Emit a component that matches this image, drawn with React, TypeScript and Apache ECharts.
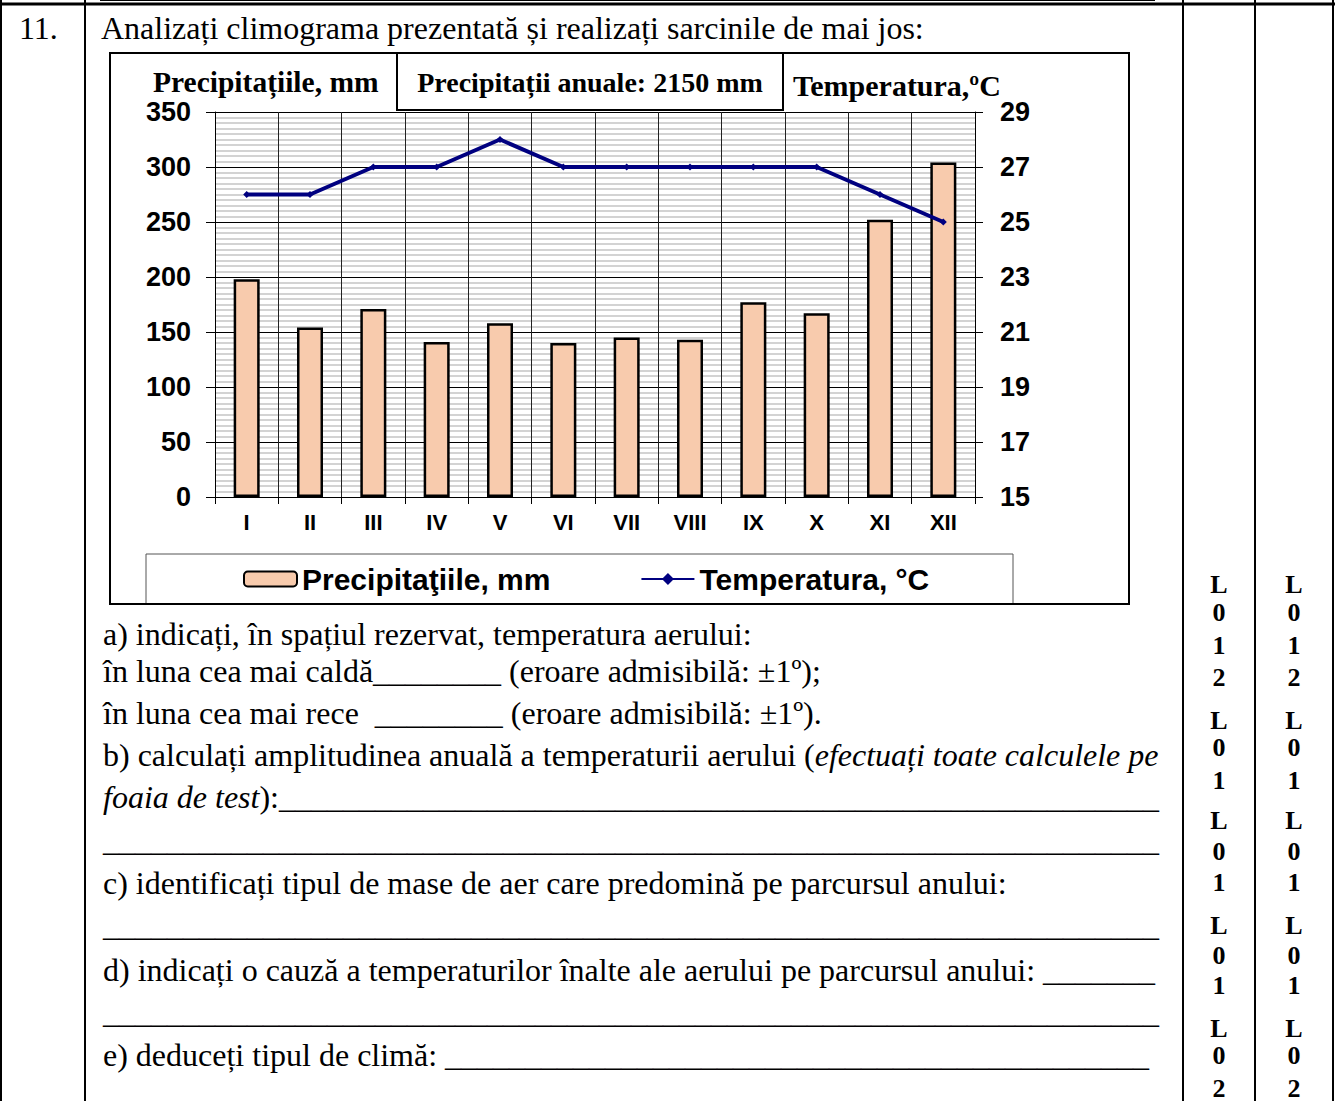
import React, { useEffect, useRef } from "react";
import * as echarts from "echarts";

const months = ["I", "II", "III", "IV", "V", "VI", "VII", "VIII", "IX", "X", "XI", "XII"];
const precipitation = [198, 154, 171, 141, 158, 140, 145, 143, 177, 167, 252, 304];
const temperature = [26, 26, 27, 27, 28, 27, 27, 27, 27, 27, 26, 25];
const tempTicks = [15, 17, 19, 21, 23, 25, 27, 29];

const precipName = "Precipitaţiile, mm";
const tempName = "Temperatura, °C";
const chartTitle = "Precipitații anuale: 2150 mm";
const leftAxisTitle = "Precipitațiile, mm";
const rightAxisTitle = "Temperatura,ºC";

const u = (n: number) => "_".repeat(n);

const pageLines: { y: number; text: string }[] = [
  { y: 634, text: "a) indicați, în spațiul rezervat, temperatura aerului:" },
  { y: 671, text: "în luna cea mai caldă" + u(8) + " (eroare admisibilă: ±1º);" },
  { y: 713, text: "în luna cea mai rece  " + u(8) + " (eroare admisibilă: ±1º)." },
  { y: 840, text: u(66) },
  { y: 883, text: "c) identificați tipul de mase de aer care predomină pe parcursul anului:" },
  { y: 925, text: u(66) },
  { y: 970, text: "d) indicați o cauză a temperaturilor înalte ale aerului pe parcursul anului: " + u(7) },
  { y: 1012, text: u(66) },
  { y: 1055, text: "e) deduceți tipul de climă: " + u(11) + u(33) },
];

const scoreCols = [1219, 1294];
const scoreChars: { y: number; ch: string }[] = [
  { y: 584, ch: "L" }, { y: 612, ch: "0" }, { y: 645, ch: "1" }, { y: 677, ch: "2" },
  { y: 720, ch: "L" }, { y: 747, ch: "0" }, { y: 780, ch: "1" },
  { y: 820, ch: "L" }, { y: 851, ch: "0" }, { y: 882, ch: "1" },
  { y: 925, ch: "L" }, { y: 955, ch: "0" }, { y: 985, ch: "1" },
  { y: 1028, ch: "L" }, { y: 1055, ch: "0" }, { y: 1088, ch: "2" },
];

const serif = '"Liberation Serif", "Times New Roman", serif';
const sans = '"Liberation Sans", Arial, sans-serif';
const FS = 32;

export default function App() {
  const ref = useRef<HTMLDivElement>(null);
  useEffect(() => {
    if (!ref.current) return;
    const chart = echarts.init(ref.current, null, { renderer: "svg" });

    const graphic: any[] = [];
    const line = (x1: number, y1: number, x2: number, y2: number, w: number, c = "#000") =>
      graphic.push({ type: "line", shape: { x1, y1, x2, y2 }, style: { stroke: c, lineWidth: w }, z: 5, silent: true });
    const text = (x: number, y: number, t: string, font: string, align = "left", extra: any = {}) =>
      graphic.push({
        type: "text",
        x,
        y,
        z: 10,
        silent: true,
        style: { text: t, font, fill: "#000", align, verticalAlign: "middle", ...extra },
      });

    // table lines
    line(100, 0.5, 1155, 0.5, 1);
    line(0, 4, 1335, 4, 3);
    line(1, 0, 1, 1101, 2);
    line(85, 0, 85, 1101, 2);
    line(1183, 0, 1183, 1101, 2);
    line(1255, 0, 1255, 1101, 2);
    line(1333, 0, 1333, 1101, 2);

    text(19, 28, "11.", `${FS}px ${serif}`);
    text(101, 28, "Analizați climograma prezentată și realizați sarcinile de mai jos:", `${FS}px ${serif}`);

    // chart frame
    graphic.push({ type: "rect", shape: { x: 110, y: 53, width: 1019, height: 551 }, style: { fill: "none", stroke: "#000", lineWidth: 2 }, z: 1, silent: true });
    graphic.push({ type: "rect", shape: { x: 146, y: 554, width: 867, height: 50 }, style: { fill: "#fff", stroke: "#555", lineWidth: 1 }, z: 0, silent: true });
    graphic.push({ type: "rect", shape: { x: 397, y: 53, width: 386, height: 57 }, style: { fill: "#fff", stroke: "#000", lineWidth: 2 }, z: 6, silent: true });
    text(590, 82, chartTitle, `bold 28px ${serif}`, "center");
    text(153, 82, leftAxisTitle, `bold 29.5px ${serif}`, "left", { lineHeight: 24 });
    text(793, 85, rightAxisTitle, `bold 30px ${serif}`, "left", { lineHeight: 24 });

    pageLines.forEach((l) => text(103, l.y, l.text, `${FS}px ${serif}`));
    graphic.push({
      type: "text", x: 103, y: 755, z: 10, silent: true,
      style: {
        text: "{n|b) calculați amplitudinea anuală a temperaturii aerului (}{i|efectuați toate calculele pe}",
        verticalAlign: "middle",
        rich: {
          n: { font: `${FS}px ${serif}`, fill: "#000" },
          i: { font: `italic ${FS}px ${serif}`, fill: "#000" },
        },
      },
    });
    graphic.push({
      type: "text", x: 103, y: 797, z: 10, silent: true,
      style: {
        text: "{i|foaia de test}{n|):" + u(55) + "}",
        verticalAlign: "middle",
        rich: {
          n: { font: `${FS}px ${serif}`, fill: "#000" },
          i: { font: `italic ${FS}px ${serif}`, fill: "#000" },
        },
      },
    });

    scoreCols.forEach((cx) => scoreChars.forEach((s) => text(cx, s.y, s.ch, `bold 26px ${serif}`, "center")));

    chart.setOption({
      animation: false,
      backgroundColor: "#fff",
      grid: { left: 215, top: 112, width: 760, height: 385 },
      legend: {
        left: 243,
        top: 564,
        padding: 0,
        itemWidth: 53,
        itemHeight: 15,
        itemGap: 90,
        textStyle: { fontSize: 30, fontWeight: "bold", fontFamily: sans, color: "#000" },
        data: [precipName, tempName],
      },
      xAxis: {
        type: "category",
        data: months,
        axisLine: { lineStyle: { color: "#000", width: 1 } },
        axisTick: { show: true, length: 7, lineStyle: { color: "#000" } },
        splitLine: { show: true, lineStyle: { color: "#222", width: 1 } },
        axisLabel: { fontSize: 22, fontWeight: "bold", fontFamily: sans, color: "#000", margin: 14 },
      },
      yAxis: [
        {
          type: "value",
          min: 0,
          max: 350,
          interval: 50,
          axisLine: { show: true, lineStyle: { color: "#000" } },
          axisTick: { show: true, length: 9, lineStyle: { color: "#000" } },
          axisLabel: { fontSize: 27, fontWeight: "bold", fontFamily: sans, color: "#000", margin: 24 },
          splitLine: { show: true, lineStyle: { color: "#000", width: 1 } },
          minorTick: { show: false, splitNumber: 10 },
          minorSplitLine: { show: true, lineStyle: { color: "#c4c4c4", width: 1.5 } },
        },
        {
          type: "value",
          min: 15,
          max: 29,
          position: "right",
          axisLine: { show: true, lineStyle: { color: "#000" } },
          axisTick: { show: true, length: 8, customValues: tempTicks, lineStyle: { color: "#000" } },
          axisLabel: { fontSize: 27, fontWeight: "bold", fontFamily: sans, color: "#000", margin: 25, customValues: tempTicks },
          splitLine: { show: false },
        },
      ],
      series: [
        {
          name: precipName,
          type: "bar",
          data: precipitation,
          barWidth: 26,
          itemStyle: { color: "#F8CBAD", borderColor: "#000", borderWidth: 2.5 },
        },
        {
          name: tempName,
          type: "line",
          yAxisIndex: 1,
          data: temperature,
          symbol: "diamond",
          symbolSize: 7,
          color: "#000080",
          lineStyle: { color: "#000080", width: 4 },
          itemStyle: { color: "#000080" },
          z: 5,
        },
      ],
      graphic,
    });
    return () => chart.dispose();
  }, []);
  return (
    <div
      ref={ref}
      style={{ position: "absolute", left: 0, top: 0, width: 1335, height: 1101, background: "#fff" }}
    />
  );
}
